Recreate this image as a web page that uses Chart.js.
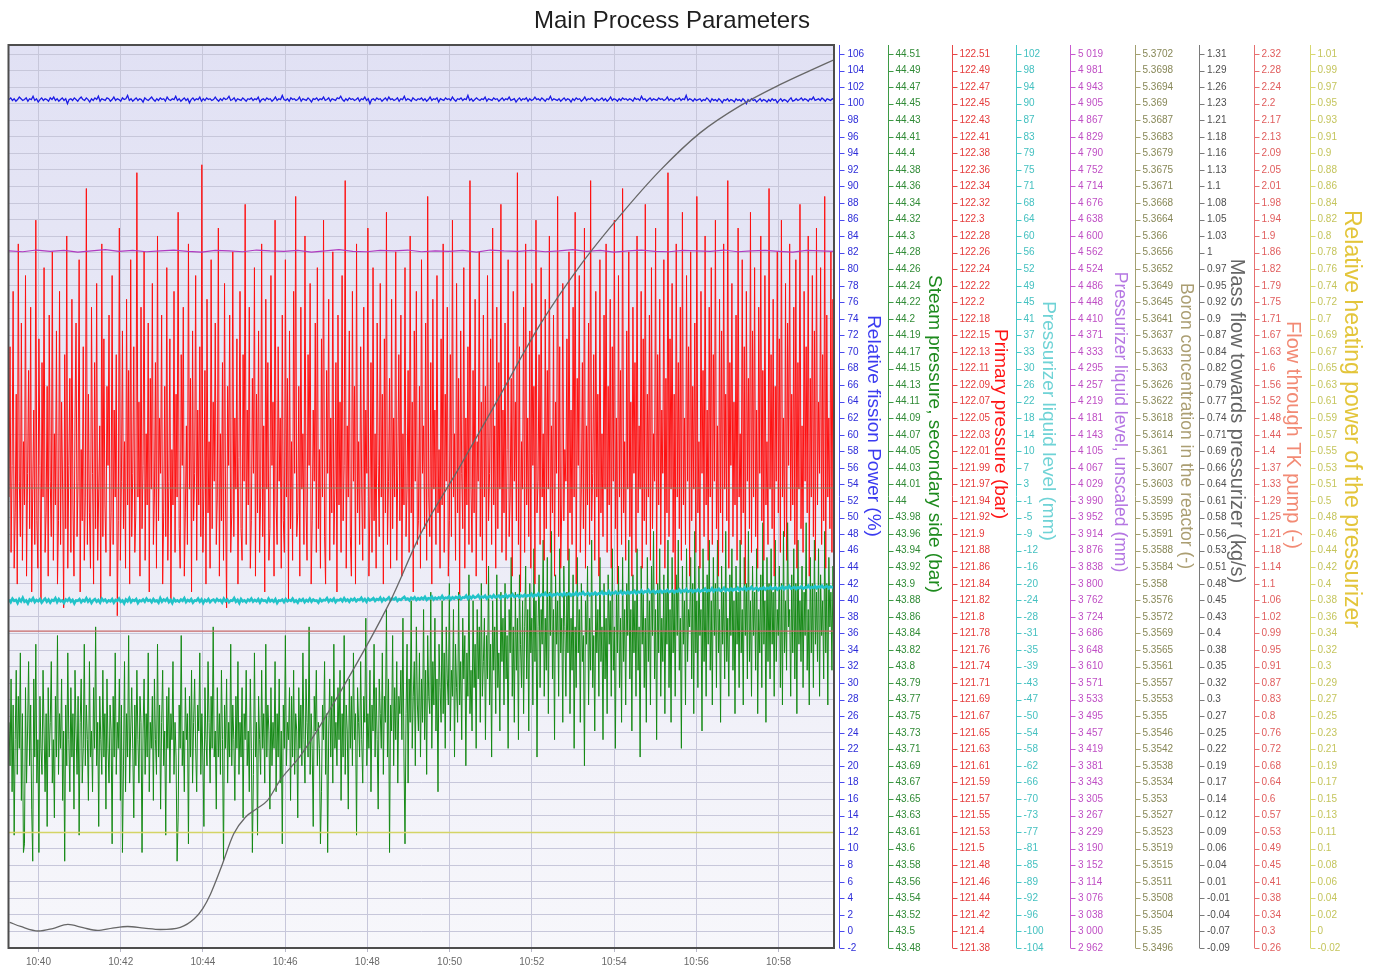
<!DOCTYPE html>
<html>
<head>
<meta charset="utf-8">
<title>Main Process Parameters</title>
<script src="https://cdn.jsdelivr.net/npm/chart.js@4.4.1/dist/chart.umd.min.js"></script>
<style>
  html, body { margin: 0; padding: 0; background: #ffffff; }
  #wrap { position: relative; width: 1375px; height: 970px; }
</style>
</head>
<body>
<div id="wrap"><canvas id="chart" width="1375" height="970"></canvas></div>
<script>
// ---- recording window (seconds after 10:00) ----
const windowStart = 2357;   // 10:39:17
const windowEnd = 3561;     // 10:59:21
const timeTickLabels = ['10:40', '10:42', '10:44', '10:46', '10:48', '10:50', '10:52', '10:54', '10:56', '10:58'];

// ---- tick labels of the nine value axes (top to bottom) ----
const fissionPowerTicks = ['106','104','102','100','98','96','94','92','90','88','86','84','82','80','78','76','74','72','70','68','66','64','62','60','58','56','54','52','50','48','46','44','42','40','38','36','34','32','30','28','26','24','22','20','18','16','14','12','10','8','6','4','2','0','-2'];
const steamPressureTicks = ['44.51','44.49','44.47','44.45','44.43','44.41','44.4','44.38','44.36','44.34','44.32','44.3','44.28','44.26','44.24','44.22','44.2','44.19','44.17','44.15','44.13','44.11','44.09','44.07','44.05','44.03','44.01','44','43.98','43.96','43.94','43.92','43.9','43.88','43.86','43.84','43.82','43.8','43.79','43.77','43.75','43.73','43.71','43.69','43.67','43.65','43.63','43.61','43.6','43.58','43.56','43.54','43.52','43.5','43.48'];
const primaryPressureTicks = ['122.51','122.49','122.47','122.45','122.43','122.41','122.38','122.36','122.34','122.32','122.3','122.28','122.26','122.24','122.22','122.2','122.18','122.15','122.13','122.11','122.09','122.07','122.05','122.03','122.01','121.99','121.97','121.94','121.92','121.9','121.88','121.86','121.84','121.82','121.8','121.78','121.76','121.74','121.71','121.69','121.67','121.65','121.63','121.61','121.59','121.57','121.55','121.53','121.5','121.48','121.46','121.44','121.42','121.4','121.38'];
const levelTicks = ['102','98','94','90','87','83','79','75','71','68','64','60','56','52','49','45','41','37','33','30','26','22','18','14','10','7','3','-1','-5','-9','-12','-16','-20','-24','-28','-31','-35','-39','-43','-47','-50','-54','-58','-62','-66','-70','-73','-77','-81','-85','-89','-92','-96','-100','-104'];
const levelRawTicks = ['5 019','4 981','4 943','4 905','4 867','4 829','4 790','4 752','4 714','4 676','4 638','4 600','4 562','4 524','4 486','4 448','4 410','4 371','4 333','4 295','4 257','4 219','4 181','4 143','4 105','4 067','4 029','3 990','3 952','3 914','3 876','3 838','3 800','3 762','3 724','3 686','3 648','3 610','3 571','3 533','3 495','3 457','3 419','3 381','3 343','3 305','3 267','3 229','3 190','3 152','3 114','3 076','3 038','3 000','2 962'];
const boronTicks = ['5.3702','5.3698','5.3694','5.369','5.3687','5.3683','5.3679','5.3675','5.3671','5.3668','5.3664','5.366','5.3656','5.3652','5.3649','5.3645','5.3641','5.3637','5.3633','5.363','5.3626','5.3622','5.3618','5.3614','5.361','5.3607','5.3603','5.3599','5.3595','5.3591','5.3588','5.3584','5.358','5.3576','5.3572','5.3569','5.3565','5.3561','5.3557','5.3553','5.355','5.3546','5.3542','5.3538','5.3534','5.353','5.3527','5.3523','5.3519','5.3515','5.3511','5.3508','5.3504','5.35','5.3496'];
const massFlowTicks = ['1.31','1.29','1.26','1.23','1.21','1.18','1.16','1.13','1.1','1.08','1.05','1.03','1','0.97','0.95','0.92','0.9','0.87','0.84','0.82','0.79','0.77','0.74','0.71','0.69','0.66','0.64','0.61','0.58','0.56','0.53','0.51','0.48','0.45','0.43','0.4','0.38','0.35','0.32','0.3','0.27','0.25','0.22','0.19','0.17','0.14','0.12','0.09','0.06','0.04','0.01','-0.01','-0.04','-0.07','-0.09'];
const tkFlowTicks = ['2.32','2.28','2.24','2.2','2.17','2.13','2.09','2.05','2.01','1.98','1.94','1.9','1.86','1.82','1.79','1.75','1.71','1.67','1.63','1.6','1.56','1.52','1.48','1.44','1.4','1.37','1.33','1.29','1.25','1.21','1.18','1.14','1.1','1.06','1.02','0.99','0.95','0.91','0.87','0.83','0.8','0.76','0.72','0.68','0.64','0.6','0.57','0.53','0.49','0.45','0.41','0.38','0.34','0.3','0.26'];
const heatingTicks = ['1.01','0.99','0.97','0.95','0.93','0.91','0.9','0.88','0.86','0.84','0.82','0.8','0.78','0.76','0.74','0.72','0.7','0.69','0.67','0.65','0.63','0.61','0.59','0.57','0.55','0.53','0.51','0.5','0.48','0.46','0.44','0.42','0.4','0.38','0.36','0.34','0.32','0.3','0.29','0.27','0.25','0.23','0.21','0.19','0.17','0.15','0.13','0.11','0.1','0.08','0.06','0.04','0.02','0','-0.02'];

// ---- recorded signals, evenly sampled over the window ----
// Relative fission power (%)
const fissionPower = [
  100.5,100.7,100.4,100.6,100.3,100.5,100.8,100.6,100.4,100.5,100.7,100.3,100.6,100.5,100.9,100.4,100.6,100.2,100.5,100.7,
  100.4,100.6,100.5,100.3,100.7,100.5,100.8,100.4,100.6,100.3,100.5,100.7,100.4,100.6,100.0,100.5,100.6,100.4,100.7,100.5,
  100.3,100.6,100.8,100.5,100.4,100.7,100.5,100.2,100.6,100.4,100.7,100.5,100.9,100.3,100.6,100.5,100.4,100.7,100.6,100.3,
  100.5,100.8,100.4,100.6,100.5,100.3,100.7,100.5,100.6,101.0,100.4,100.6,100.3,100.5,100.7,100.4,100.6,100.5,100.2,100.7,
  100.5,100.4,100.6,100.8,100.5,100.3,100.6,100.4,100.7,100.5,100.6,100.3,100.8,100.5,100.4,100.6,100.5,100.9,100.4,100.6,
  100.3,100.5,100.7,100.4,100.6,100.1,100.5,100.7,100.4,100.6,100.5,100.8,100.3,100.6,100.4,100.7,100.5,100.6,100.4,100.5,
  100.8,100.5,100.3,100.6,100.4,100.7,100.5,100.6,100.9,100.4,100.5,100.7,100.3,100.6,100.5,100.4,100.7,100.5,100.3,100.6,
  100.5,100.7,100.4,100.6,100.5,100.8,100.2,100.5,100.6,100.4,100.7,100.5,100.6,100.3,100.5,100.8,100.4,100.6,100.5,101.0,
  100.5,100.4,100.6,100.3,100.7,100.5,100.6,100.4,100.5,100.8,100.3,100.6,100.5,100.4,100.7,100.5,100.2,100.6,100.5,100.7,
  100.4,100.6,100.5,100.8,100.4,100.5,100.7,100.3,100.6,100.5,100.4,100.7,100.6,100.9,100.5,100.3,100.6,100.4,100.7,100.5,
  100.6,100.4,100.5,100.7,100.3,100.6,100.5,100.8,100.4,100.6,100.0,100.5,100.6,100.4,100.7,100.5,100.6,100.3,100.5,100.7,
  100.4,100.8,100.5,100.6,100.4,100.5,100.7,100.3,100.6,100.5,100.9,100.4,100.6,100.5,100.3,100.7,100.5,100.4,100.6,100.5,
  100.7,100.4,100.6,100.3,100.5,100.8,100.4,100.6,100.5,100.7,100.2,100.6,100.5,100.4,100.7,100.5,100.6,100.4,100.8,100.5,
  100.3,100.6,100.5,100.7,100.4,100.6,100.5,101.0,100.4,100.6,100.3,100.5,100.7,100.5,100.4,100.6,100.5,100.8,100.3,100.6,
  100.5,100.4,100.7,100.5,100.6,100.3,100.5,100.7,100.4,100.6,100.5,100.8,100.4,100.5,100.6,100.2,100.5,100.7,100.4,100.6,
  100.5,100.7,100.3,100.6,100.4,100.5,100.8,100.5,100.6,100.4,100.7,100.5,100.3,100.6,100.5,100.9,100.4,100.6,100.5,100.4,
  100.6,100.3,100.5,100.7,100.4,100.6,100.5,100.2,100.6,100.4,100.7,100.5,100.6,100.3,100.5,100.8,100.4,100.6,100.5,100.7,
  100.5,100.3,100.6,100.4,100.5,100.7,100.4,100.6,100.3,100.5,100.8,100.4,100.6,100.5,100.3,100.6,100.4,100.7,100.5,100.6,
  100.4,100.6,100.5,100.3,100.7,100.5,100.6,100.4,100.9,100.5,100.6,100.3,100.5,100.7,100.4,100.6,100.5,100.4,100.7,100.5,
  100.6,100.4,100.5,100.8,100.4,100.6,100.5,100.3,100.6,100.5,100.7,100.4,100.6,100.5,101.0,100.4,100.6,100.5,100.3,100.6,
  100.4,100.5,100.6,100.3,100.5,100.4,100.7,100.5,100.2,100.6,100.4,100.5,100.3,100.6,100.4,100.1,100.5,100.4,100.6,100.3,
  100.5,100.4,100.2,100.6,100.4,100.5,100.3,100.6,100.4,100.0,100.5,100.3,100.6,100.4,100.5,100.2,100.4,100.6,100.3,100.5,
  100.4,100.2,100.5,100.3,100.6,100.4,100.5,100.1,100.4,100.6,100.3,100.5,100.4,100.2,100.5,100.7,100.3,100.4,100.6,100.4,
  100.5,100.7,100.4,100.6,100.5,100.3,100.6,100.5,100.8,100.4,100.5,100.6,100.4,100.7,100.5,100.3,100.6,100.5,100.4,100.6,
  100.5
];

// Steam pressure, secondary side (bar)
const steamPressure = [
  43.74,43.69,43.79,43.66,43.76,43.61,43.72,43.80,43.68,43.77,43.71,43.82,43.65,43.75,43.59,43.60,43.78,43.67,43.73,43.81,
  43.69,43.76,43.64,43.58,43.79,43.70,43.83,43.67,43.72,43.59,43.77,43.71,43.68,43.80,43.73,43.66,43.75,43.62,43.78,43.70,
  43.74,43.81,43.67,43.72,43.63,43.77,43.70,43.84,43.68,43.75,43.71,43.79,43.65,43.73,43.58,43.76,43.69,43.82,43.72,43.66,
  43.78,43.70,43.75,43.64,43.80,43.73,43.68,43.77,43.61,43.74,43.79,43.67,43.71,43.83,43.69,43.76,43.72,43.65,43.81,43.70,
  43.73,43.66,43.78,43.71,43.85,43.69,43.74,43.62,43.77,43.72,43.68,43.80,43.70,43.75,43.64,43.79,43.71,43.67,43.76,43.73,
  43.60,43.77,43.70,43.82,43.68,43.74,43.71,43.79,43.65,43.76,43.59,43.69,43.81,43.66,43.75,43.70,43.84,43.67,43.73,43.78,
  43.71,43.63,43.76,43.69,43.80,43.72,43.67,43.77,43.74,43.59,43.73,43.79,43.68,43.75,43.70,43.82,43.66,43.74,43.71,43.77,
  43.65,43.79,43.72,43.68,43.83,43.70,43.76,43.64,43.74,43.80,43.69,43.73,43.61,43.77,43.71,43.78,43.67,43.75,43.72,43.81,
  43.68,43.74,43.70,43.58,43.63,43.76,43.71,43.84,43.69,43.73,43.66,43.78,43.72,43.75,43.60,43.77,43.70,43.80,43.67,43.74,
  43.79,43.71,43.66,43.76,43.73,43.82,43.68,43.75,43.70,43.62,43.78,43.72,43.69,43.81,43.74,43.67,43.77,43.71,43.85,43.70,
  43.73,43.64,43.78,43.70,43.75,43.68,43.80,43.72,43.58,43.76,43.71,43.79,43.67,43.74,43.70,43.83,43.69,43.76,43.72,43.65,
  43.77,43.71,43.81,43.68,43.74,43.70,43.78,43.63,43.75,43.72,43.80,43.69,43.73,43.66,43.79,43.71,43.59,43.68,43.82,43.70,
  43.74,43.61,43.77,43.72,43.68,43.80,43.71,43.75,43.67,43.83,43.70,43.76,43.73,43.64,43.78,43.69,43.74,43.71,43.81,43.66,
  43.75,43.70,43.79,43.67,43.73,43.60,43.76,43.71,43.84,43.69,43.74,43.72,43.78,43.65,43.77,43.70,43.80,43.68,43.75,43.73,
  43.63,43.78,43.71,43.76,43.69,43.82,43.72,43.67,43.79,43.74,43.70,43.85,43.68,43.75,43.71,43.62,43.77,43.73,43.80,43.69,
  43.74,43.71,43.60,43.66,43.76,43.72,43.81,43.68,43.75,43.59,43.73,43.79,43.70,43.77,43.67,43.83,43.71,43.74,43.69,43.78,
  43.72,43.80,43.65,43.75,43.70,43.84,43.68,43.76,43.73,43.64,43.79,43.71,43.77,43.69,43.82,43.72,43.75,43.61,43.78,43.74,
  43.70,43.81,43.72,43.67,43.77,43.74,43.86,43.69,43.75,43.71,43.80,43.66,43.76,43.73,43.83,43.70,43.78,43.72,43.64,43.79,
  43.75,43.71,43.82,43.68,43.77,43.74,43.87,43.70,43.79,43.59,43.76,43.73,43.84,43.69,43.78,43.72,43.81,43.67,43.77,43.75,
  43.80,43.72,43.86,43.70,43.60,43.75,43.83,43.67,43.79,43.74,43.88,43.71,43.77,43.81,43.69,43.85,43.76,43.73,43.82,43.70,
  43.79,43.74,43.87,43.72,43.80,43.68,43.84,43.77,43.75,43.89,43.71,43.81,43.76,43.86,43.73,43.79,43.66,43.83,43.78,43.74,
  43.88,43.75,43.82,43.71,43.85,43.79,43.76,43.90,43.73,43.80,43.77,43.87,43.70,43.83,43.78,43.74,43.89,43.76,43.81,43.72,
  43.86,43.79,43.84,43.69,43.82,43.77,43.91,43.75,43.80,43.73,43.88,43.78,43.83,43.71,43.87,43.79,43.85,43.74,43.90,43.77,
  43.81,43.86,43.72,43.84,43.79,43.92,43.76,43.83,43.70,43.88,43.80,43.85,43.75,43.91,43.78,43.82,43.73,43.89,43.81,43.86,
  43.76,43.90,43.79,43.84,43.71,43.87,43.82,43.93,43.77,43.85,43.74,43.89,43.80,43.86,43.72,43.91,43.83,43.78,43.88,43.75,
  43.85,43.92,43.79,43.87,43.73,43.90,43.82,43.86,43.76,43.94,43.81,43.88,43.70,43.85,43.91,43.78,43.87,43.83,43.95,43.77,
  43.86,43.80,43.93,43.75,43.89,43.84,43.96,43.79,43.87,43.72,43.91,43.83,43.88,43.77,43.94,43.82,43.86,43.74,43.92,43.85,
  43.77,43.89,43.82,43.94,43.75,43.86,43.80,43.91,43.71,43.85,43.78,43.93,43.82,43.87,43.74,43.90,43.81,43.84,43.69,43.88,
  43.83,43.92,43.76,43.86,43.80,43.95,43.78,43.84,43.73,43.89,43.82,43.87,43.77,43.93,43.81,43.85,43.72,43.90,43.79,43.86,
  43.75,43.91,43.83,43.88,43.77,43.94,43.80,43.85,43.71,43.89,43.82,43.92,43.78,43.86,43.74,43.93,43.81,43.87,43.76,43.90,
  43.84,43.95,43.79,43.87,43.73,43.91,43.82,43.88,43.77,43.94,43.80,43.85,43.70,43.92,43.83,43.89,43.78,43.86,43.74,43.93,
  43.81,43.88,43.76,43.92,43.84,43.96,43.79,43.87,43.72,43.90,43.82,43.94,43.77,43.86,43.81,43.91,43.75,43.89,43.83,43.95,
  43.78,43.87,43.74,43.93,43.82,43.89,43.77,43.91,43.84,43.95,43.80,43.86,43.71,43.92,43.83,43.88,43.76,43.94,43.81,43.87,
  43.85,43.93,43.79,43.90,43.75,43.96,43.82,43.88,43.78,43.92,43.84,43.87,43.73,43.94,43.81,43.89,43.77,43.91,43.83,43.95,
  43.80,43.88,43.76,43.93,43.84,43.90,43.78,43.95,43.82,43.87,43.74,43.92,43.83,43.89,43.79,43.96,43.81,43.86,43.77,43.91,
  43.84,43.94,43.80,43.88,43.75,43.92,43.83,43.89,43.78,43.95,43.82,43.87,43.76,43.93,43.84,43.90,43.79,43.96,43.81,43.88,
  43.77,43.92,43.84,43.89,43.80,43.94,43.75,43.87,43.82,43.91,43.78,43.97,43.83,43.88,43.74,43.93,43.81,43.90,43.79,43.94,
  43.83,43.89,43.77,43.95,43.81,43.87,43.84,43.92,43.78,43.90,43.76,43.96,43.82,43.88,43.80,43.97,43.85,43.87,43.77,43.91,
  43.82,43.94,43.79,43.90,43.75,43.95,43.83,43.88,43.81,43.92,43.78,43.89,43.84,43.97,43.80,43.87,43.76,43.93,43.82,43.90,
  43.78,43.95,43.83,43.89,43.81,43.94,43.77,43.91,43.84,43.88,43.79,43.96,43.82,43.90,43.76,43.93,43.85,43.89,43.80,43.92,
  43.84
];

// Primary pressure (bar)
const primaryPressure = [
  121.95,122.14,121.88,121.99,122.21,121.86,121.93,122.08,121.84,122.27,121.97,121.90,122.17,121.87,122.02,121.94,122.23,121.85,121.98,122.11,
  121.91,122.19,121.83,121.96,122.06,121.89,122.30,121.92,121.86,122.15,121.99,121.82,122.12,121.95,122.24,121.88,121.93,122.09,121.85,122.18,
  121.97,121.90,122.26,121.87,122.03,121.94,122.16,121.84,121.92,122.21,121.89,122.07,121.96,121.81,122.13,121.91,122.28,121.86,121.99,122.10,
  121.88,122.20,121.94,121.85,122.05,122.17,121.90,121.97,122.25,121.83,122.01,121.92,122.14,121.87,121.95,122.34,121.89,122.08,121.93,121.86,
  122.19,121.98,121.84,122.12,121.91,122.22,121.87,121.96,122.04,121.82,122.27,121.90,122.15,121.94,121.88,122.09,121.99,122.18,121.85,121.93,
  122.23,121.89,122.06,121.95,122.13,121.80,121.92,122.29,121.87,121.97,122.16,121.91,122.02,121.86,122.20,121.94,122.11,121.84,122.25,121.90,
  121.98,122.14,121.88,121.93,122.36,121.95,122.07,121.85,122.19,121.91,121.99,122.26,121.87,122.03,121.94,122.17,121.83,122.10,121.96,122.22,
  121.89,121.95,122.12,121.86,122.28,121.92,122.05,121.98,122.18,121.84,121.93,122.09,121.90,122.24,121.87,121.97,122.15,121.82,122.01,121.94,
  122.21,121.88,122.08,121.95,122.31,121.91,121.86,122.13,121.99,122.19,121.85,121.93,122.04,121.89,122.27,121.96,122.10,121.83,122.16,121.92,
  121.98,122.23,121.87,122.06,121.94,122.14,121.90,122.37,121.88,121.96,122.11,121.84,122.20,121.93,122.02,121.86,122.25,121.91,122.07,121.97,
  122.17,121.89,121.95,122.29,121.85,122.03,121.92,122.12,121.87,122.22,121.94,121.81,122.09,121.99,122.18,121.88,121.93,122.26,121.90,122.05,
  121.96,122.15,121.84,122.00,122.21,121.91,121.87,122.13,121.97,122.32,121.89,122.06,121.94,122.19,121.86,121.92,122.10,121.98,122.24,121.85,
  122.08,121.93,122.16,121.88,121.95,122.27,121.90,122.04,121.83,122.20,121.96,122.12,121.87,121.91,122.23,121.99,122.07,121.85,122.30,121.94,
  121.89,122.14,121.97,122.05,121.86,122.18,121.92,121.88,122.25,121.95,122.10,121.82,122.16,121.91,122.02,121.87,122.21,121.98,122.33,121.90,
  121.93,122.09,121.85,122.19,121.96,122.03,121.89,122.28,121.94,121.87,122.13,121.99,122.22,121.84,121.92,122.06,121.97,122.17,121.88,122.24,
  121.91,122.01,121.86,122.15,121.95,122.30,121.90,121.84,122.11,121.98,122.20,121.87,122.05,121.93,122.26,121.89,121.96,122.12,121.83,122.18,
  121.94,122.07,121.88,122.23,121.92,121.99,122.35,121.86,122.04,121.95,122.16,121.90,121.85,122.21,121.97,122.09,121.84,122.27,121.93,122.02,
  121.89,122.14,121.96,121.87,122.19,121.91,122.06,121.98,122.29,121.85,121.94,122.12,121.88,122.24,121.92,122.03,121.86,122.17,121.99,121.90,
  122.22,121.95,122.08,121.84,122.15,121.93,122.31,121.89,121.97,122.10,121.86,122.20,121.91,122.05,121.95,122.26,121.87,121.99,122.13,121.92,
  122.18,121.85,122.03,121.94,122.24,121.90,121.96,122.11,121.88,122.28,121.93,122.07,121.83,122.16,121.97,122.21,121.89,121.92,122.09,121.86,
  122.25,121.98,122.04,121.91,122.17,121.87,122.33,121.95,121.90,122.12,121.84,122.20,121.96,122.06,121.89,122.23,121.93,122.01,121.86,122.15,
  121.94,122.27,121.88,122.08,121.97,122.19,121.85,121.92,122.13,121.90,122.30,121.95,122.03,121.87,122.22,121.93,122.10,121.82,122.16,121.98,
  121.91,122.24,121.86,122.05,121.94,122.14,121.89,122.35,121.96,121.88,122.11,121.93,122.20,121.85,122.02,121.97,122.26,121.90,122.07,121.87,
  122.18,121.95,122.09,121.84,122.23,121.92,121.98,122.15,121.89,122.29,121.94,122.04,121.86,122.19,121.91,122.12,121.96,122.32,121.88,122.06,
  121.93,122.17,121.87,122.01,122.25,121.90,121.95,122.10,121.85,122.21,121.97,122.07,121.92,122.36,121.89,122.14,121.83,122.02,121.96,122.19,
  121.88,122.27,121.94,122.05,121.90,122.16,121.86,122.22,121.99,122.09,121.84,122.30,121.93,121.97,122.13,121.89,122.24,121.95,122.03,121.87,
  122.20,121.91,122.11,121.96,122.28,121.88,122.04,121.93,122.18,121.85,122.07,121.98,122.33,121.90,122.14,121.86,121.94,122.22,121.92,122.01,
  121.97,122.15,121.87,122.26,121.93,122.06,121.89,122.19,121.95,122.31,121.84,122.10,121.99,122.23,121.88,121.96,122.12,121.91,122.29,121.86,
  122.04,121.94,122.17,121.89,122.35,121.92,121.98,122.13,121.87,122.21,121.95,122.08,121.85,122.25,121.93,122.03,121.90,122.18,121.96,122.27,
  121.88,122.09,121.94,122.20,121.86,122.14,121.97,122.30,121.91,122.05,121.84,122.23,121.95,122.11,121.89,122.34,121.93,122.02,121.87,122.16,
  121.96,122.26,121.90,122.07,121.85,122.19,121.98,122.12,121.88,122.28,121.93,122.04,121.96,122.21,121.86,122.15,121.92,122.32,121.89,122.08,
  121.95,122.18,121.87,122.24,121.91,122.03,121.97,122.29,121.84,122.13,121.94,122.20,121.89,122.06,121.98,122.25,121.86,122.10,121.93,122.36,
  121.90,122.15,121.96,122.22,121.88,122.08,121.83,122.27,121.95,122.12,121.91,122.19,121.87,122.31,121.94,122.05,121.89,122.23,121.97,122.14,
  121.85,122.26,121.92,122.09,121.96,122.17,121.88,122.33,121.93,122.02,121.86,122.21,121.98,122.11,121.90,122.28,121.94,122.06,121.87,122.19,
  121.95,122.24,121.89,122.13,121.97,122.30,121.91,122.04,121.85,122.20,121.93,122.16,121.88,122.27,121.96,122.08,121.92,122.35,121.86,122.12,
  121.99,122.22,121.90,122.07,121.94,122.18,121.87,122.29,121.95,122.03,121.89,122.25,121.93,122.14,121.84,122.21,121.97,122.10,121.91,122.31,
  121.88,122.16,121.95,122.24,121.90,122.06,121.86,122.19,121.98,122.28,121.92,122.11,121.87,122.23,121.94,122.02,121.89,122.34,121.96,122.13,
  121.91,122.20,121.85,122.09,121.97,122.26,121.93,122.15,121.88,122.30,121.95,122.05,121.90,122.22,121.87,122.17,121.99,122.27,121.92,122.08,
  121.94,122.19,121.89,122.25,121.86,122.12,121.96,122.32,121.91,122.04,121.88,122.21,121.97,122.14,121.93,122.28,121.85,122.10,121.95,122.23,
  121.90,122.16,121.87,122.29,121.94,122.07,121.98,122.24,121.89,122.13,121.92,122.33,121.86,122.18,121.95,122.05,121.91,122.26,121.88,122.20,
  121.96
];

// Pressurizer liquid level (mm)
const pressurizerLevel = [
  -23.7,-24.3,-23.5,-24.0,-23.8,-24.5,-23.6,-24.1,-23.3,-24.2,-23.9,-24.6,-23.7,-24.0,-23.4,-24.3,-23.8,-24.1,-23.6,-24.4,
  -23.9,-23.5,-24.2,-23.7,-24.4,-23.8,-24.0,-23.4,-24.3,-23.6,-24.1,-23.9,-24.5,-23.7,-24.0,-23.5,-24.2,-23.8,-24.6,-23.9,
  -24.0,-23.6,-24.3,-23.8,-24.1,-23.4,-24.2,-23.7,-24.5,-23.9,-23.6,-24.2,-23.8,-24.4,-23.5,-24.0,-23.7,-24.3,-23.9,-24.1,
  -23.6,-24.4,-23.8,-24.0,-23.5,-24.2,-23.9,-24.6,-23.7,-24.1,-23.4,-24.3,-23.8,-24.0,-23.6,-24.5,-23.9,-24.1,-23.7,-24.2,
  -23.5,-24.0,-23.8,-24.3,-23.6,-24.1,-23.9,-24.4,-23.4,-24.2,-23.7,-24.0,-23.5,-24.3,-23.8,-24.5,-23.6,-24.1,-23.9,-24.2,
  -23.7,-24.0,-23.4,-24.3,-23.8,-24.1,-23.6,-24.4,-23.9,-24.0,-23.5,-24.2,-23.7,-24.5,-23.8,-24.1,-23.6,-24.3,-23.9,-23.7,
  -24.2,-23.6,-24.0,-23.8,-24.4,-23.5,-24.1,-23.7,-24.3,-23.9,-24.0,-23.4,-24.2,-23.8,-24.5,-23.6,-24.1,-23.9,-24.3,-23.7,
  -24.0,-23.5,-24.2,-23.8,-24.1,-23.6,-24.4,-23.7,-24.0,-23.9,-24.3,-23.5,-24.1,-23.8,-24.2,-23.6,-24.5,-23.9,-24.0,-23.7,
  -24.3,-23.6,-24.1,-23.8,-24.0,-23.5,-24.2,-23.9,-24.4,-23.7,-24.0,-23.6,-24.3,-23.8,-24.1,-23.5,-24.2,-23.7,-24.0,-23.9,
  -24.4,-23.6,-24.1,-23.8,-23.9,-23.4,-24.2,-23.7,-24.0,-23.5,-24.3,-23.8,-23.9,-23.6,-24.1,-23.4,-24.0,-23.7,-24.2,-23.6,
  -23.9,-23.5,-24.1,-23.7,-23.8,-23.3,-24.0,-23.6,-24.2,-23.5,-23.9,-23.7,-23.4,-24.0,-23.6,-23.8,-23.3,-24.1,-23.5,-23.9,
  -23.6,-23.2,-23.9,-23.5,-23.7,-23.3,-24.0,-23.6,-23.8,-23.4,-23.1,-23.7,-23.5,-23.9,-23.3,-23.6,-23.2,-23.8,-23.4,-23.7,
  -23.3,-23.6,-23.1,-23.8,-23.4,-23.5,-23.0,-23.7,-23.3,-23.6,-23.2,-23.5,-22.9,-23.6,-23.3,-23.4,-23.0,-23.7,-23.2,-23.5,
  -23.1,-23.4,-22.9,-23.6,-23.2,-23.3,-22.8,-23.5,-23.0,-23.4,-22.9,-23.3,-23.1,-22.7,-23.4,-23.0,-23.2,-22.8,-23.5,-23.1,
  -22.9,-23.3,-22.7,-23.2,-23.0,-22.8,-23.4,-22.9,-23.1,-22.6,-23.2,-22.8,-23.0,-22.5,-23.1,-22.9,-22.7,-23.2,-22.8,-23.0,
  -22.6,-23.0,-22.7,-22.9,-22.4,-23.0,-22.6,-22.8,-22.3,-22.9,-22.5,-22.7,-22.2,-22.8,-22.6,-22.4,-22.9,-22.5,-22.7,-22.3,
  -22.6,-22.4,-22.8,-22.2,-22.7,-22.5,-22.3,-22.8,-22.4,-22.6,-22.1,-22.7,-22.3,-22.5,-22.0,-22.6,-22.4,-22.2,-22.7,-22.3,
  -22.5,-22.1,-22.6,-22.3,-22.4,-21.9,-22.5,-22.2,-22.4,-21.8,-22.5,-22.1,-22.3,-21.9,-22.4,-22.2,-21.8,-22.4,-22.0,-22.3,
  -21.9,-22.3,-22.0,-22.2,-21.7,-22.3,-21.9,-22.1,-21.6,-22.2,-21.8,-22.0,-21.5,-22.1,-21.9,-21.7,-22.2,-21.8,-22.0,-21.6,
  -22.1,-21.7,-21.9,-21.5,-22.0,-21.8,-21.6,-22.1,-21.7,-21.9,-21.4,-22.0,-21.6,-21.8,-21.3,-21.9,-21.7,-21.5,-22.0,-21.6,
  -21.8,-21.4,-21.9,-21.6,-21.7,-21.2,-21.8,-21.5,-21.7,-21.1,-21.8,-21.4,-21.6,-21.2,-21.7,-21.5,-21.0,-21.7,-21.3,-21.6,
  -21.2,-21.6,-21.3,-21.5,-21.0,-21.6,-21.2,-21.4,-20.9,-21.5,-21.1,-21.3,-20.8,-21.4,-21.2,-21.0,-21.5,-21.1,-21.3,-20.9,
  -21.4,-21.0,-21.2,-20.8,-21.3,-21.1,-20.9,-21.4,-21.0,-21.2,-20.7,-21.3,-20.9,-21.1,-20.6,-21.2,-21.0,-20.8,-21.3,-20.9,
  -21.1,-20.7,-21.2,-20.9,-21.0,-20.5,-21.1,-20.8,-21.0,-20.6,-21.1,-20.7,-20.9,-20.5,-21.0,-20.8,-20.6,-21.1,-20.7,-20.9,
  -20.8
];

// Pressurizer liquid level, unscaled (mm)
const pressurizerLevelRaw = [
  4566,4564,4568,4565,4567,4563,4566,4569,4565,4567,4564,4566,4568,4565,4563,4567,4566,4564,4568,4566,
  4565,4567,4563,4566,4569,4565,4564,4567,4566,4568,4564,4566,4565,4567,4563,4568,4566,4565,4567,4564,
  4566,4569,4565,4567,4563,4566,4568,4565,4564,4567,4566,4565,4568,4564,4566,4567,4565,4563,4567,4566,
  4565
];

// Boron concentration in the reactor (-)
const boronConcentration = [5.3602, 5.3602, 5.3602, 5.3602, 5.3602, 5.3602, 5.3602, 5.3602, 5.3602, 5.3602, 5.3602];

// Flow through TK pump (-)
const tkPumpFlow = [0.99, 0.99, 0.99, 0.99, 0.99, 0.99, 0.99, 0.99, 0.99, 0.99, 0.99];

// Relative heating power of the pressurizer
const heaterPower = [0.113, 0.113, 0.113, 0.113, 0.113, 0.113, 0.113, 0.113, 0.113, 0.113, 0.113];

// Mass flow towards pressurizer (kg/s), logged at irregular instants
const massFlowTimes = [2358, 2374, 2400, 2421, 2443, 2465, 2486, 2508, 2530, 2554, 2578, 2607, 2627, 2640, 2651, 2666, 2685, 2702, 2718, 2734, 2753, 2783, 2841, 2914, 2957, 3016, 3074, 3132, 3191, 3250, 3308, 3366, 3425, 3482, 3526, 3561];
const massFlow = [-0.0498, -0.0563, -0.0634, -0.0595, -0.0531, -0.0582, -0.0625, -0.0589, -0.0563, -0.0589, -0.0610, -0.0576, -0.0446, -0.0278, -0.0057, 0.0344, 0.0889, 0.1148, 0.1278, 0.1407, 0.1732, 0.2120, 0.3119, 0.4544, 0.5569, 0.6657, 0.7759, 0.8861, 0.9794, 1.0585, 1.1285, 1.1869, 1.2296, 1.2620, 1.2841, 1.3009];

// ---- helpers ----
const FONT = '"Liberation Sans", Arial, sans-serif';
const TOP_MARGIN = 1.09 / 108;   // headroom above the highest tick, as fraction of tick span

function toNumber(label) { return parseFloat(label.replace(/\s/g, '')); }

function evenlySampled(values) {
  const step = (windowEnd - windowStart) / (values.length - 1);
  return values.map((v, i) => ({ x: windowStart + i * step, y: v }));
}

function timeToSeconds(label) {
  const [h, m] = label.split(':').map(Number);
  return (h - 10) * 3600 + m * 60;
}

// ---- value axes, innermost first ----
const axes = [
  { id: 'yPower',    ticks: fissionPowerTicks,    width: 53, pad: 13.5, rail: 4.5, label: '#2c2cd8', line: '#4a4af0', title: 'Relative fission Power (%)',               titleColor: '#3b3bf0', titleSize: 19,   titleDx: 39, titleY: 426 },
  { id: 'ySteam',    ticks: steamPressureTicks,   width: 64, pad: 8.5,  rail: 0.5, label: '#2f8a35', line: '#3d9a45', title: 'Steam pressure, secondary side (bar)',     titleColor: '#1d8a1d', titleSize: 19,   titleDx: 47, titleY: 434 },
  { id: 'yPrimary',  ticks: primaryPressureTicks, width: 64, pad: 8.5,  rail: 0.5, label: '#e53b3b', line: '#e84848', title: 'Primary pressure (bar)',                   titleColor: '#ff1515', titleSize: 19,   titleDx: 49, titleY: 424 },
  { id: 'yLevel',    ticks: levelTicks,           width: 54, pad: 8.5,  rail: 0.5, label: '#44c0c0', line: '#45c8c8', title: 'Pressurizer liquid level (mm)',            titleColor: '#6fd3d6', titleSize: 19,   titleDx: 33, titleY: 421 },
  { id: 'yLevelRaw', ticks: levelRawTicks,        width: 65, pad: 9,    rail: 0.5, label: '#bf4fc4', line: '#c85ad0', title: 'Pressurizer liquid level, unscaled (mm)',  titleColor: '#b577e2', titleSize: 17.5, titleDx: 51, titleY: 422 },
  { id: 'yBoron',    ticks: boronTicks,           width: 64, pad: 8.5,  rail: 0.5, label: '#878757', line: '#a3a070', title: 'Boron concentration in the reactor (-)',   titleColor: '#ab9e72', titleSize: 17.5, titleDx: 52, titleY: 426 },
  { id: 'yMassFlow', ticks: massFlowTicks,        width: 55, pad: 9,    rail: 0.5, label: '#4f4f4f', line: '#7a7a7a', title: 'Mass flow towards pressurizer (kg/s)',     titleColor: '#666666', titleSize: 20,   titleDx: 39, titleY: 421 },
  { id: 'yTkFlow',   ticks: tkFlowTicks,          width: 56, pad: 8.5,  rail: 0.5, label: '#e05c5c', line: '#e87070', title: 'Flow through TK pump (-)',                 titleColor: '#f28a74', titleSize: 20,   titleDx: 40, titleY: 435 },
  { id: 'yHeating',  ticks: heatingTicks,         width: 66, pad: 8.5,  rail: 0.5, label: '#c4c45c', line: '#d8d870', title: 'Relative heating power of the pressurizer', titleColor: '#e3c53a', titleSize: 23, titleDx: 42, titleY: 419 }
];

const scales = {
  x: {
    type: 'linear',
    bounds: 'data',
    min: windowStart,
    max: windowEnd,
    afterBuildTicks: (s) => { s.ticks = timeTickLabels.map(l => ({ value: timeToSeconds(l) })); },
    afterFit: (s) => { s.height = 22; },
    ticks: {
      autoSkip: false,
      maxRotation: 0,
      padding: 4,
      color: '#6a6a6a',
      font: { family: FONT, size: 10 },
      callback: (v, i) => timeTickLabels[i]
    },
    grid: { color: '#c7c7da', lineWidth: 1, drawTicks: true, tickLength: 4, tickColor: '#b9b9c9' },
    border: { display: false }
  }
};

axes.forEach((ax, k) => {
  const lo = toNumber(ax.ticks[ax.ticks.length - 1]);
  const hi = toNumber(ax.ticks[0]);
  const n = ax.ticks.length;
  scales[ax.id] = {
    type: 'linear',
    position: 'right',
    weight: k,
    bounds: 'data',
    min: lo,
    max: hi + (hi - lo) * TOP_MARGIN,
    afterBuildTicks: (s) => {
      const t = [];
      for (let i = 0; i < n; i++) t.push({ value: lo + (hi - lo) * i / (n - 1) });
      s.ticks = t;
    },
    afterFit: (s) => { s.width = ax.width; },
    ticks: {
      autoSkip: false,
      padding: ax.pad,
      color: ax.label,
      font: { family: FONT, size: 10 },
      callback: (v, i) => ax.ticks[n - 1 - i]
    },
    grid: k === 0
      ? { color: '#c7c7da', lineWidth: 1, drawTicks: false }
      : { display: false, drawOnChartArea: false, drawTicks: false },
    border: { display: false }
  };
});

// ---- plot background, frame, axis rails and axis titles ----
const decorations = {
  id: 'decorations',
  beforeDraw(chart) {
    const { ctx, chartArea: a } = chart;
    const g = ctx.createLinearGradient(0, a.top, 0, a.bottom);
    g.addColorStop(0, '#e1e1f4');
    g.addColorStop(0.55, '#ececf7');
    g.addColorStop(1, '#f7f7fb');
    ctx.save();
    ctx.fillStyle = g;
    ctx.fillRect(a.left, a.top, a.right - a.left, a.bottom - a.top);
    ctx.restore();
  },
  afterDraw(chart) {
    const { ctx, chartArea: a } = chart;
    ctx.save();
    ctx.strokeStyle = '#4d4d4d';
    ctx.lineWidth = 2;
    ctx.strokeRect(a.left - 0.5, a.top, a.right - a.left + 0.5, a.bottom - a.top);

    axes.forEach(ax => {
      const s = chart.scales[ax.id];
      const x = Math.round(s.left + ax.rail) + 0.5;
      ctx.strokeStyle = ax.line;
      ctx.lineWidth = 1;
      ctx.beginPath();
      ctx.moveTo(x, a.top);
      ctx.lineTo(x, a.bottom);
      s.ticks.forEach(t => {
        const y = Math.round(s.getPixelForValue(t.value)) + 0.5;
        ctx.moveTo(x, y);
        ctx.lineTo(x + 5, y);
      });
      ctx.stroke();

      ctx.save();
      ctx.translate(s.left + ax.titleDx, ax.titleY);
      ctx.rotate(Math.PI / 2);
      ctx.font = ax.titleSize + 'px ' + FONT;
      ctx.fillStyle = ax.titleColor;
      ctx.textAlign = 'center';
      ctx.textBaseline = 'middle';
      ctx.fillText(ax.title, 0, 0);
      ctx.restore();
    });

    ctx.font = '24px ' + FONT;
    ctx.fillStyle = '#1f1f1f';
    ctx.textAlign = 'center';
    ctx.textBaseline = 'middle';
    ctx.fillText('Main Process Parameters', 672, 21);
    ctx.restore();
  }
};

const line = (data, yAxisID, color, width, order, extra) => Object.assign({
  data, yAxisID, order,
  borderColor: color,
  borderWidth: width,
  pointRadius: 0,
  fill: false,
  tension: 0
}, extra || {});

new Chart(document.getElementById('chart'), {
  type: 'line',
  data: {
    datasets: [
      line(massFlowTimes.map((t, i) => ({ x: t, y: massFlow[i] })), 'yMassFlow', '#676767', 1.3, 0, { cubicInterpolationMode: 'monotone' }),
      line(evenlySampled(heaterPower), 'yHeating', '#d4d466', 1.5, 1),
      line(evenlySampled(tkPumpFlow), 'yTkFlow', '#c76868', 1.2, 1),
      line(evenlySampled(boronConcentration), 'yBoron', '#8c7e62', 1.2, 1),
      line(evenlySampled(pressurizerLevelRaw), 'yLevelRaw', '#b03ac0', 1.2, 2),
      line(evenlySampled(fissionPower), 'yPower', '#1a1ae6', 1.3, 3),
      line(evenlySampled(pressurizerLevel), 'yLevel', '#22c3c9', 2.6, 4),
      line(evenlySampled(primaryPressure), 'yPrimary', '#ff1010', 1, 5),
      line(evenlySampled(steamPressure), 'ySteam', '#168a16', 1, 6)
    ]
  },
  options: {
    responsive: false,
    animation: false,
    devicePixelRatio: 1,
    events: [],
    parsing: false,
    layout: { padding: { top: 45, left: 9, right: 0, bottom: 0 } },
    plugins: { legend: { display: false }, tooltip: { enabled: false }, title: { display: false } },
    scales
  },
  plugins: [decorations]
});
</script>
</body>
</html>
